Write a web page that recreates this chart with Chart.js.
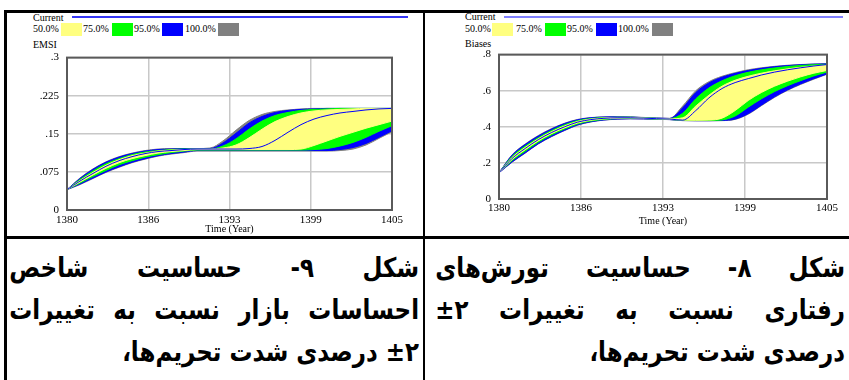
<!DOCTYPE html>
<html><head><meta charset="utf-8">
<script src="https://cdn.jsdelivr.net/npm/chart.js@4/dist/chart.umd.min.js"></script>
<style>
html,body{margin:0;padding:0;background:#fff;}
#wrap{position:relative;width:849px;height:380px;overflow:hidden;background:#fff;}
.abs{position:absolute;}
.lg{position:absolute;font-family:"Liberation Serif",serif;font-size:10px;color:#000;line-height:12px;white-space:nowrap;}
.sw{position:absolute;height:13px;width:21px;}
.hl{position:absolute;background:#000;}
.cap{position:absolute;direction:rtl;font-family:"DejaVu Sans",sans-serif;font-weight:bold;font-size:27px;color:#000;}
.cap div{height:42px;line-height:42px;width:482px;transform:scaleX(0.85);transform-origin:right top;}
.cap .j{text-align:justify;text-align-last:justify;}
.cap .r{text-align:right;}
</style></head>
<body><div id="wrap">
<div class="hl" style="left:4px;top:10px;width:845px;height:3px;"></div>
<div class="hl" style="left:4px;top:10px;width:3px;height:370px;"></div>
<div class="hl" style="left:423px;top:10px;width:2px;height:370px;"></div>
<div class="hl" style="left:4px;top:236px;width:845px;height:3px;"></div>

<!-- left legend -->
<div class="lg" style="left:33px;top:12px;">Current</div>
<div class="abs" style="left:72px;top:16px;width:336px;height:2px;background:#3535f5;"></div>
<div class="lg" style="left:33px;top:23px;">50.0%</div><div class="sw" style="left:61px;top:23px;background:#ffff80;"></div>
<div class="lg" style="left:83px;top:23px;">75.0%</div><div class="sw" style="left:112px;top:23px;background:#00ff00;"></div>
<div class="lg" style="left:134px;top:23px;">95.0%</div><div class="sw" style="left:162px;top:23px;background:#0000ff;"></div>
<div class="lg" style="left:185px;top:23px;">100.0%</div><div class="sw" style="left:218px;top:23px;background:#808080;"></div>
<div class="lg" style="left:33px;top:39px;">EMSI</div>

<!-- right legend -->
<div class="lg" style="left:465px;top:11px;">Current</div>
<div class="abs" style="left:504px;top:16px;width:339px;height:2px;background:#8080ff;"></div>
<div class="lg" style="left:465px;top:23px;">50.0%</div><div class="sw" style="left:492px;top:23px;background:#ffff80;"></div>
<div class="lg" style="left:516px;top:23px;">75.0%</div><div class="sw" style="left:545px;top:23px;background:#00ff00;"></div>
<div class="lg" style="left:567px;top:23px;">95.0%</div><div class="sw" style="left:596px;top:23px;background:#0000ff;"></div>
<div class="lg" style="left:618px;top:23px;">100.0%</div><div class="sw" style="left:652px;top:23px;background:#808080;"></div>
<div class="lg" style="left:465px;top:38px;">Biases</div>

<canvas id="c1" class="abs" style="left:6px;top:43px;" width="410" height="193"></canvas>
<canvas id="c2" class="abs" style="left:428px;top:40px;" width="415" height="187"></canvas>

<div class="cap" style="left:9px;top:247px;width:410px;">
<div class="j">شکل ۹- حساسیت شاخص</div>
<div class="j">احساسات بازار نسبت به تغییرات</div>
<div class="r"><bdi dir="ltr">±۲</bdi> درصدی شدت تحریم‌ها،</div>
</div>
<div class="cap" style="left:430px;top:247px;width:415px;">
<div class="j">شکل ۸- حساسیت تورش‌های</div>
<div class="j">رفتاری نسبت به تغییرات <bdi dir="ltr">±۲</bdi></div>
<div class="r">درصدی شدت تحریم‌ها،</div>
</div>
</div>
<script>
const years = [1380,1381,1382,1383,1384,1385,1386,1387,1388,1389,1390,1391,1392,1393,1394,1395,1396,1397,1398,1399,1400,1401,1402,1403,1404,1405];
const xTickPos = [1380,1386.25,1392.5,1398.75,1405];
const xTickLabels = ['1380','1386','1393','1399','1405'];

// EMSI (left chart)
const emsiTicks = [0,0.075,0.15,0.225,0.3];
const emsiTickLabels = ['0','.075','.15','.225','.3'];
const emsiCurrent = [.040,.057,.072,.086,.097,.105,.111,.115,.117,.119,.120,.120,.120,.120,.121,.125,.137,.153,.168,.179,.186,.191,.194,.197,.199,.200];
const emsiUp100 = [.040,.063,.081,.095,.105,.112,.117,.120,.121,.121,.121,.122,.136,.157,.176,.188,.194,.197,.199,.200,.200,.200,.200,.200,.200,.200];
const emsiUp95  = [.040,.062,.080,.094,.104,.111,.116,.119,.120,.121,.121,.121,.132,.151,.171,.184,.192,.196,.198,.199,.200,.200,.200,.200,.200,.200];
const emsiUp75  = [.040,.060,.077,.091,.101,.109,.114,.117,.119,.120,.120,.120,.126,.140,.159,.175,.186,.192,.196,.198,.199,.200,.200,.200,.200,.200];
const emsiUp50  = [.040,.058,.074,.088,.099,.107,.112,.116,.118,.119,.120,.120,.122,.128,.142,.159,.174,.184,.191,.195,.197,.198,.199,.200,.200,.200];
const emsiLo50  = [.040,.055,.069,.082,.093,.101,.107,.112,.115,.117,.119,.119,.119,.119,.119,.119,.119,.119,.120,.127,.136,.145,.153,.161,.168,.175];
const emsiLo75  = [.040,.053,.066,.078,.089,.097,.104,.109,.113,.116,.118,.118,.118,.118,.118,.118,.118,.118,.118,.119,.121,.126,.133,.143,.155,.166];
const emsiLo95  = [.040,.051,.063,.075,.085,.094,.101,.107,.111,.114,.117,.117,.117,.117,.117,.117,.117,.117,.117,.117,.117,.119,.123,.131,.143,.156];
const emsiLo100 = [.040,.050,.062,.074,.084,.093,.100,.106,.110,.113,.116,.116,.116,.116,.116,.116,.116,.116,.116,.116,.116,.117,.120,.128,.141,.154];

// Biases (right chart)
const biasTicks = [0,0.2,0.4,0.6,0.8];
const biasTickLabels = ['0','.2','.4','.6','.8'];
const biasCurrent = [.145,.225,.280,.329,.368,.400,.426,.440,.447,.450,.450,.448,.445,.443,.437,.490,.560,.612,.645,.667,.687,.703,.716,.727,.737,.745];
const biasUp100 = [.145,.245,.305,.352,.390,.420,.441,.451,.455,.456,.455,.452,.449,.447,.515,.600,.650,.680,.700,.716,.727,.735,.741,.745,.748,.750];
const biasUp95  = [.145,.243,.302,.349,.387,.418,.439,.450,.454,.455,.454,.451,.448,.446,.505,.590,.643,.675,.696,.712,.724,.733,.739,.744,.747,.749];
const biasUp75  = [.145,.236,.293,.340,.379,.411,.434,.446,.451,.453,.453,.450,.447,.445,.475,.555,.615,.655,.683,.702,.716,.726,.734,.740,.744,.747];
const biasUp50  = [.145,.230,.286,.334,.373,.405,.430,.443,.449,.452,.452,.449,.446,.444,.450,.515,.575,.625,.658,.680,.697,.710,.721,.730,.737,.742];
const biasLo50  = [.145,.219,.273,.322,.362,.394,.421,.436,.444,.448,.449,.447,.444,.442,.437,.436,.437,.448,.490,.546,.590,.625,.653,.677,.697,.712];
const biasLo75  = [.145,.213,.265,.315,.355,.388,.416,.432,.441,.446,.447,.446,.443,.441,.436,.435,.435,.438,.460,.509,.555,.595,.628,.656,.682,.703];
const biasLo95  = [.145,.206,.256,.307,.347,.381,.411,.428,.438,.443,.445,.444,.442,.440,.435,.434,.434,.435,.443,.473,.520,.566,.605,.638,.667,.693];
const biasLo100 = [.145,.204,.254,.305,.345,.379,.409,.427,.437,.442,.444,.443,.441,.440,.434,.433,.433,.434,.441,.470,.517,.563,.602,.635,.664,.691];

const YELLOW='#ffff80', GREEN='#00ff00', BLUE='#0000ff', GRAY='#808080';

function pts(arr){ return years.map((y,i)=>({x:y,y:arr[i]})); }
function band(up,lo,color){
  return [
    {data:pts(up),borderColor:color,backgroundColor:color,borderWidth:1,fill:'+1'},
    {data:pts(lo),borderColor:color,backgroundColor:color,borderWidth:1,fill:false}
  ];
}
const frame = {
  id:'frame',
  afterDatasetsDraw(chart){
    const a=chart.chartArea, c=chart.ctx;
    c.save(); c.strokeStyle='#5a5a5a'; c.lineWidth=2;
    c.strokeRect(a.left,a.top,a.right-a.left,a.bottom-a.top); c.restore();
  }
};
function makeChart(id, cfg){
  const ds = [
    {data:pts(cfg.cur),borderColor:BLUE,borderWidth:1,fill:false},
    ...band(cfg.up50,cfg.lo50,YELLOW),
    ...band(cfg.up75,cfg.lo75,GREEN),
    ...band(cfg.up95,cfg.lo95,BLUE),
    ...band(cfg.up100,cfg.lo100,GRAY)
  ];
  ds.forEach(d=>{d.pointRadius=0;d.cubicInterpolationMode='monotone';});
  return new Chart(document.getElementById(id),{
    type:'line',
    data:{datasets:ds},
    options:{
      responsive:false,animation:false,devicePixelRatio:1,
      layout:{padding:{left:0,right:cfg.padRight,top:0,bottom:0}},
      plugins:{legend:{display:false},tooltip:{enabled:false},filler:{propagate:false}},
      scales:{
        x:{type:'linear',min:1380,max:1405,
          afterBuildTicks:s=>{s.ticks=xTickPos.map(v=>({value:v}));},
          afterFit:s=>{s.height=cfg.xH;},
          ticks:{autoSkip:false,maxRotation:0,padding:cfg.xPad,color:'#000',font:{family:'Liberation Serif',size:11},
            callback:(v,i)=>xTickLabels[i]},
          grid:{color:'#c8c8c8',lineWidth:1.5,drawTicks:false},
          border:{display:false},
          title:{display:true,text:'Time (Year)',color:'#000',font:{family:'Liberation Serif',size:10},padding:{top:0,bottom:cfg.tPad}}
        },
        y:{min:0,max:cfg.ymax,
          afterBuildTicks:s=>{s.ticks=cfg.ticks.map(v=>({value:v}));},
          afterFit:s=>{s.width=cfg.yW;},
          ticks:{padding:8,color:'#000',font:{family:'Liberation Serif',size:11},callback:(v,i)=>cfg.labels[i]},
          grid:{color:'#c8c8c8',lineWidth:1.5,drawTicks:false},
          border:{display:false}
        }
      }
    },
    plugins:[frame]
  });
}
makeChart('c1',{cur:emsiCurrent,up50:emsiUp50,lo50:emsiLo50,up75:emsiUp75,lo75:emsiLo75,up95:emsiUp95,lo95:emsiLo95,up100:emsiUp100,lo100:emsiLo100,
  ymax:0.3,ticks:emsiTicks,labels:emsiTickLabels,yW:61,padRight:24,xH:26,xPad:4,tPad:1});
makeChart('c2',{cur:biasCurrent,up50:biasUp50,lo50:biasLo50,up75:biasUp75,lo75:biasLo75,up95:biasUp95,lo95:biasLo95,up100:biasUp100,lo100:biasLo100,
  ymax:0.8,ticks:biasTicks,labels:biasTickLabels,yW:71,padRight:16,xH:28,xPad:3,tPad:0});
</script>
</body></html>
